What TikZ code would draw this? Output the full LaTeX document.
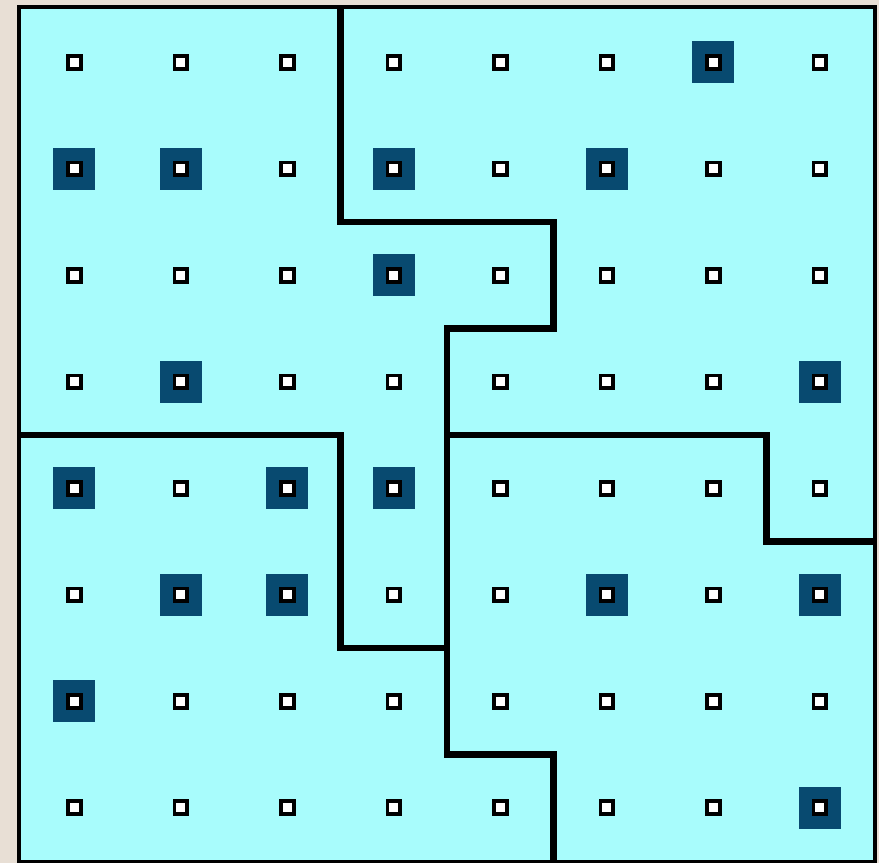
\documentclass[tikz,border=0pt]{standalone}
\usepackage{tikz}
\usetikzlibrary{positioning}

\definecolor{paper}{RGB}{232,223,213}
\definecolor{cell}{RGB}{168,252,252}
\definecolor{mark}{RGB}{8,74,112}

\begin{document}
\begin{tikzpicture}[
    frame/.style={
        draw=black,
        fill=cell,
        line width=1.1pt
    },
    site/.style={
        draw=black,
        fill=white,
        line width=1pt,
        minimum size=0.12cm,
        inner sep=0pt
    },
    hit/.style={
        fill=mark,
        minimum size=0.394cm,
        inner sep=0pt
    },
    cut/.style={
        draw=black,
        line width=1.75pt
    }
]

% Page and board
\fill[paper] (-0.198,-0.018) rectangle (8.056,8.085);
\useasboundingbox (-0.198,-0.018) rectangle (8.056,8.085);
\draw[frame] (-0.02,-0.01) rectangle (8.015,8.02);

% Marked sites (column/row)
\foreach \i/\j in {6/0, 0/1, 1/1, 3/1, 5/1, 3/2, 1/3, 7/3,
                   0/4, 2/4, 3/4, 1/5, 2/5, 5/5, 7/5, 0/6, 7/7} {
    \node[hit] (hit-\i-\j) at (\i+0.5, 7.5-\j) {};
}

% Grid of sites
\foreach \i in {0,...,7} {
    \foreach \j in {0,...,7} {
        \node[site] (site-\i-\j) at (\i+0.5, 7.5-\j) {};
    }
}

% Partition boundaries
\draw[cut] (3,8.02) -- (3,6) -- (5,6) -- (5,5) -- (4,5) -- (4,1) -- (5,1) -- (5,-0.01);
\draw[cut] (-0.02,4) -- (3,4) -- (3,2) -- (4,2);
\draw[cut] (4,4) -- (7,4) -- (7,3) -- (8.015,3);

\end{tikzpicture}
\end{document}
